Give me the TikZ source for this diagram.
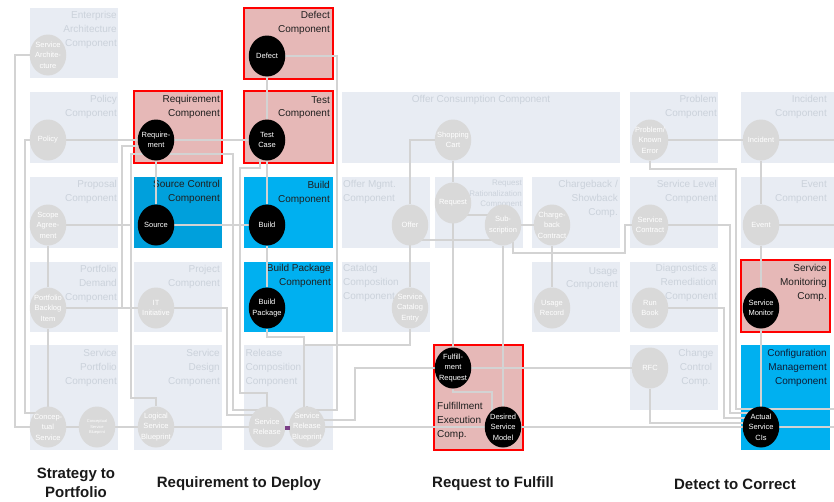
\documentclass[tikz,border=0pt]{standalone}
\usepackage{fontspec}
\setmainfont{Liberation Sans}
\usetikzlibrary{shapes.geometric,calc}

\definecolor{compfill}{HTML}{E8ECF3}
\definecolor{comptext}{HTML}{CBD2DB}
\definecolor{ballgray}{HTML}{D9D9D9}
\definecolor{wire}{HTML}{D3D3D3}
\definecolor{redfill}{HTML}{E6B8B7}
\definecolor{cyanbox}{HTML}{00B0F0}
\definecolor{cyandark}{HTML}{00A0DC}
\definecolor{navy}{HTML}{0E1C36}
\definecolor{relpurple}{HTML}{7A3F86}

\pgfdeclarelayer{bg}
\pgfdeclarelayer{wires}
\pgfsetlayers{bg,wires,main}

\tikzset{
	comp/.style={fill=compfill},
	redcomp/.style={fill=redfill, draw=red, line width=2.4pt},
	bluecomp/.style={fill=cyanbox},
	ttl/.style={anchor=north east, inner sep=0pt, align=right, text=comptext, font=\fontsize{10}{13.8}\selectfont},
	ttlleft/.style={ttl, anchor=north west, align=left},
	hotttl/.style={text=black!88},
	ball/.style={ellipse, minimum width=36.5pt, minimum height=41pt, inner sep=-8pt, fill=ballgray, text=white, align=center, font=\fontsize{7.5}{10.5}\selectfont},
	hot/.style={ball, fill=black},
	link/.style={draw=wire, line width=1.8pt},
	phase/.style={align=center, text=black!90, font=\bfseries\fontsize{15}{19}\selectfont},
	relmark/.style={fill=relpurple, minimum width=5pt, minimum height=4pt, inner sep=0pt}
}

\begin{document}
\begin{tikzpicture}[x=1pt,y=-1pt]
	\useasboundingbox (0,0) rectangle (834,501);

	\begin{pgfonlayer}{bg}
	\fill[comp] (30,8) rectangle (118,78);
	\node[ttl] (t-ea) at (117,11.5) {Enterprise\\Architecture\\Component};
	\fill[comp] (30,92) rectangle (118,163);
	\node[ttl] (t-pol) at (117,95.5) {Policy\\Component};
	\fill[comp] (30,177) rectangle (118,248);
	\node[ttl] (t-prop) at (117,180.5) {Proposal\\Component};
	\fill[comp] (30,262) rectangle (118,332);
	\node[ttl] (t-pdem) at (117,265.5) {Portfolio\\Demand\\Component};
	\fill[comp] (30,345) rectangle (118,450);
	\node[ttl] (t-spf) at (117,349) {Service\\Portfolio\\Component};

	\draw[redcomp] (134,91) rectangle (222,163);
	\node[ttl,hotttl] (t-reqc) at (220,95.5) {Requirement\\Component};
	\fill[cyandark] (134,177) rectangle (222,248);
	\node[ttl,hotttl] (t-src) at (220,180.5) {Source Control\\Component};
	\fill[comp] (134,262) rectangle (222,332);
	\node[ttl] (t-proj) at (220,265.5) {Project\\Component};
	\fill[comp] (134,345) rectangle (222,450);
	\node[ttl] (t-sdes) at (220,349) {Service\\Design\\Component};

	\draw[redcomp] (244,8) rectangle (333,79);
	\node[ttl,hotttl] (t-dft) at (330,11.5) {Defect\\Component};
	\draw[redcomp] (244,91) rectangle (333,163);
	\node[ttl,hotttl] (t-tst) at (330,96) {Test\\Component};
	\fill[bluecomp] (244,177) rectangle (333,248);
	\node[ttl,hotttl] (t-bld) at (330,181) {Build\\Component};
	\fill[bluecomp] (244,262) rectangle (333,332);
	\node[ttl,hotttl] (t-bpk) at (331,264.5) {Build Package\\Component};
	\fill[comp] (244,345) rectangle (333,450);
	\node[ttlleft] (t-rel) at (245.5,349) {Release\\Composition\\Component};

	\fill[comp] (342,92) rectangle (620,163);
	\node[ttl, anchor=north] (t-ocons) at (481,95.5) {Offer Consumption Component};
	\fill[comp] (342,177) rectangle (430,248);
	\node[ttlleft] (t-omgt) at (343,180.5) {Offer Mgmt.\\Component};
	\fill[comp] (435,177) rectangle (523,248);
	\node[ttl, font=\fontsize{8}{10.8}\selectfont] (t-rrat) at (522,179.5) {Request\\Rationalization\\Component};
	\fill[comp] (532,177) rectangle (620,248);
	\node[ttl] (t-chg) at (618,180.5) {Chargeback /\\Showback\\Comp.};
	\fill[comp] (342,262) rectangle (430,332);
	\node[ttlleft] (t-ccomp) at (343,264.5) {Catalog\\Composition\\Component};
	\fill[comp] (532,262) rectangle (620,332);
	\node[ttl] (t-use) at (618,267) {Usage\\Component};
	\draw[redcomp] (434,345) rectangle (523,450);
	\node[ttlleft,hotttl] (t-fex) at (437,402) {Fulfillment\\Execution\\Comp.};

	\fill[comp] (630,92) rectangle (718,163);
	\node[ttl] (t-prob) at (717,95.5) {Problem\\Component};
	\fill[comp] (630,177) rectangle (718,248);
	\node[ttl] (t-slvl) at (717,180.5) {Service Level\\Component};
	\fill[comp] (630,262) rectangle (718,332);
	\node[ttl] (t-diag) at (717,264.5) {Diagnostics \&\\Remediation\\Component};
	\fill[comp] (630,345) rectangle (718,410);
	\node[ttl, anchor=north, align=center] (t-chgc) at (696,349) {Change\\Control\\Comp.};

	\fill[comp] (741,92) rectangle (834,163);
	\node[ttl] (t-inc) at (827,95.5) {Incident\\Component};
	\fill[comp] (741,177) rectangle (834,248);
	\node[ttl] (t-evt) at (827,180.5) {Event\\Component};
	\draw[redcomp] (741,260) rectangle (830,332);
	\node[ttl,hotttl] (t-smon) at (827,264.5) {Service\\Monitoring\\Comp.};
	\fill[bluecomp] (741,345) rectangle (830,450);
	\node[ttl,text=navy] (t-cmdb) at (827,349) {Configuration\\Management\\Component};
	\end{pgfonlayer}

	\node[ball] (sa) at (48,55) {Service\\Archite-\\cture};
	\node[ball] (pol) at (48,140) {Policy};
	\node[ball] (scope) at (48,225) {Scope\\Agree-\\ment};
	\node[ball] (pbi) at (48,308) {Portfolio\\Backlog\\Item};
	\node[ball] (cs) at (48,427) {Concep-\\tual\\Service};
	\node[ball, font=\fontsize{4}{5.5}\selectfont] (csb) at (97,427) {Conceptual\\Service\\Blueprint};

	\node[hot] (req) at (156,140) {Require-\\ment};
	\node[hot] (src) at (156,225) {Source};
	\node[ball] (iti) at (156,308) {IT\\Initiative};
	\node[ball] (lsb) at (156,427) {Logical\\Service\\Blueprint};

	\node[hot] (dft) at (267,56) {Defect};
	\node[hot] (tc) at (267,140) {Test\\Case};
	\node[hot] (bld) at (267,225) {Build};
	\node[hot] (bp) at (267,308) {Build\\Package};
	\node[ball] (srel) at (267,427) {Service\\Release};
	\node[ball] (srb) at (307,427) {Service\\Release\\Blueprint};
	\node[relmark] (rm) at (287,428) {};

	\node[ball] (cart) at (453,140) {Shopping\\Cart};
	\node[ball] (offer) at (410,225) {Offer};
	\node[ball] (rqst) at (453,203) {Request};
	\node[ball] (sub) at (503,225) {Sub-\\scription};
	\node[ball] (cbc) at (552,225) {Charge-\\back\\Contract};
	\node[ball] (sce) at (410,308) {Service\\Catalog\\Entry};
	\node[ball] (ur) at (552,308) {Usage\\Record};
	\node[hot] (fr) at (453,368) {Fulfill-\\ment\\Request};
	\node[hot] (dsm) at (503,427) {Desired\\Service\\Model};

	\node[ball] (pke) at (650,140) {Problem/\\Known\\Error};
	\node[ball] (sc) at (650,225) {Service\\Contract};
	\node[ball] (rb) at (650,308) {Run\\Book};
	\node[ball] (rfc) at (650,368) {RFC};

	\node[ball] (inc) at (761,140) {Incident};
	\node[ball] (ev) at (761,225) {Event};
	\node[hot] (smn) at (761,308) {Service\\Monitor};
	\node[hot] (asc) at (761,427) {Actual\\Service\\CIs};

	\coordinate (e-inc) at (834,140);
	\coordinate (e-ev) at (834,225);
	\coordinate (e-pke) at (834,409);
	\coordinate (e-asc) at (834,427);
	\coordinate (j-scope) at (131,225);
	\coordinate (j-sce) at (304,345);

	\begin{pgfonlayer}{wires}
	\draw[link] (sa) -| (15,427) -- (cs);
	\draw[link] (pol) -| (25,413) -| (cs);
	\draw[link] (pol) -- (req) -- (tc);
	\draw[link] (scope) -- (pbi) -- (cs);
	\draw[link] (scope) -- (j-scope);
	\draw[link] (pbi) -- (iti);
	\draw[link] (pbi) -| (122,146) -- (req.west |- 122,146);
	\draw[link] (cs) -- (csb) -- (lsb) -- (srel) -- (srb) -- (dsm) -- (asc) -- (e-asc);
	\draw[link] (lsb) |- (131,398) -- (131,154) -| (233,410) -| (srel);
	\draw[link] (iti) -| (227,415) -| (srel);
	\draw[link] (tc.250) |- (240,168) -- (240,393) -| (srel);
	\draw[link] (req) -- (src);
	\draw[link] (src) -- (bld);
	\draw[link] (dft) -- (tc) -- (bld) -- (bp);
	\draw[link] (dft) -| (337,410) -| (srb);
	\draw[link] (bp) |- (304,337) |- (srb);
	\draw[link] (sce) |- (j-sce);
	\draw[link] (cart) -| (offer);
	\draw[link] (offer) -- (sce);
	\draw[link] (cart) -- (rqst) -- (fr);
	\draw[link] (rqst) |- (sub |- 0,215);
	\draw[link] (offer) |- ($(sub)+(0,15)$);
	\draw[link] (sub) -- (cbc);
	\draw[link] (sub) -- (dsm);
	\draw[link] (sub.300) |- (625,253) |- (sc);
	\draw[link] (cbc) -- (ur);
	\draw[link] (fr) -- (rfc);
	\draw[link] (fr) -| (355,420) -| (srb);
	\draw[link] (fr) |- (492,392) |- (dsm);
	\draw[link] (pke) -- (inc) -- (e-inc);
	\draw[link] (inc) -- (ev) -- (smn) -- (asc);
	\draw[link] (ev) -- (e-ev);
	\draw[link] (pke) |- (736,169) |- (e-pke);
	\draw[link] (sc) -| (730,413) -| (asc);
	\draw[link] (rb) -| (724,418) -| (asc);
	\draw[link] (rfc) |- ($(asc)+(0,-4)$);
	\end{pgfonlayer}

	\node[phase] (p-sp) at (76,483) {Strategy to\\Portfolio};
	\node[phase] (p-rd) at (239,484) {Requirement to Deploy};
	\node[phase] (p-rf) at (493,484) {Request to Fulfill};
	\node[phase] (p-dc) at (735,484) {Detect to Correct};
\end{tikzpicture}
\end{document}
